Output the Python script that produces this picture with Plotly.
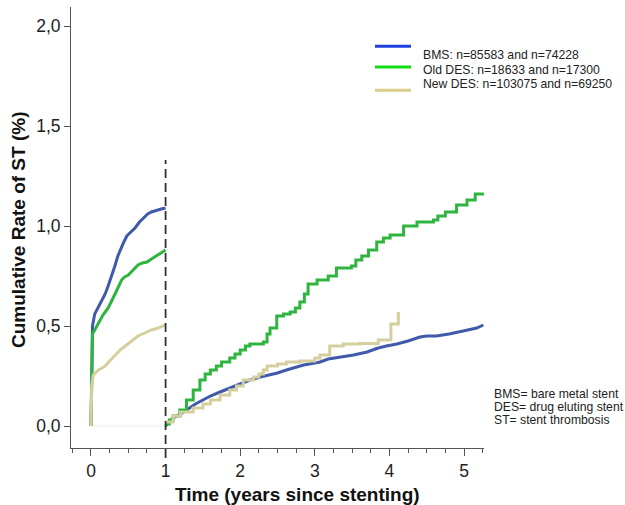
import plotly.graph_objects as go

# ---- data (years since stenting, cumulative rate of ST in %) ----
bms_t1 = [0, 0.01, 0.02, 0.05, 0.09, 0.14, 0.19, 0.23, 0.28, 0.32, 0.36, 0.39, 0.44, 0.48, 0.54, 0.59, 0.65, 0.70, 0.76, 0.81, 0.88, 0.94, 1.0]
bms_v1 = [0, 0.42, 0.50, 0.56, 0.59, 0.62, 0.66, 0.70, 0.75, 0.80, 0.85, 0.88, 0.92, 0.95, 0.97, 0.99, 1.02, 1.04, 1.06, 1.07, 1.08, 1.085, 1.09]
bms_t2 = [1.0, 1.1, 1.2, 1.28, 1.4, 1.5, 1.6, 1.73, 1.86, 2.0, 2.13, 2.27, 2.4, 2.5, 2.62, 2.75, 2.85, 3.0, 3.07, 3.18, 3.35, 3.52, 3.7, 3.85, 3.96, 4.1, 4.25, 4.41, 4.5, 4.63, 4.8, 4.95, 5.05, 5.17, 5.26]
bms_v2 = [0.0, 0.04, 0.06, 0.08, 0.11, 0.13, 0.15, 0.17, 0.19, 0.21, 0.23, 0.245, 0.255, 0.265, 0.28, 0.295, 0.305, 0.315, 0.32, 0.335, 0.345, 0.355, 0.37, 0.39, 0.40, 0.41, 0.425, 0.445, 0.45, 0.45, 0.46, 0.47, 0.48, 0.49, 0.505]

old_t1 = [0, 0.01, 0.02, 0.05, 0.08, 0.12, 0.16, 0.20, 0.23, 0.27, 0.32, 0.36, 0.41, 0.45, 0.50, 0.56, 0.63, 0.69, 0.75, 0.81, 0.88, 0.94, 1.0]
old_v1 = [0, 0.38, 0.46, 0.48, 0.50, 0.53, 0.555, 0.575, 0.59, 0.62, 0.655, 0.69, 0.73, 0.745, 0.755, 0.78, 0.805, 0.815, 0.82, 0.835, 0.85, 0.865, 0.88]
old_t2 = [1.0, 1.05, 1.1, 1.19, 1.28, 1.37, 1.46, 1.53, 1.60, 1.68, 1.75, 1.86, 1.93, 2.0, 2.07, 2.13, 2.31, 2.36, 2.40, 2.49, 2.58, 2.67, 2.74, 2.80, 2.86, 2.91, 3.03, 3.18, 3.29, 3.49, 3.55, 3.63, 3.72, 3.83, 3.92, 4.01, 4.19, 4.37, 4.59, 4.65, 4.75, 4.90, 5.04, 5.15, 5.26]
old_v2 = [0.01, 0.03, 0.05, 0.08, 0.13, 0.18, 0.23, 0.26, 0.28, 0.30, 0.32, 0.34, 0.36, 0.38, 0.40, 0.41, 0.42, 0.46, 0.49, 0.55, 0.56, 0.57, 0.59, 0.62, 0.66, 0.71, 0.73, 0.75, 0.79, 0.80, 0.83, 0.85, 0.88, 0.92, 0.94, 0.955, 1.0, 1.02, 1.03, 1.05, 1.07, 1.105, 1.13, 1.16, 1.165]

new_t1 = [0, 0.01, 0.03, 0.06, 0.10, 0.15, 0.19, 0.25, 0.32, 0.39, 0.46, 0.54, 0.63, 0.72, 0.81, 0.90, 1.0]
new_v1 = [0, 0.20, 0.255, 0.265, 0.28, 0.29, 0.30, 0.325, 0.355, 0.38, 0.40, 0.425, 0.45, 0.465, 0.48, 0.49, 0.505]
new_t2 = [1.0, 1.1, 1.2, 1.37, 1.5, 1.6, 1.73, 1.86, 1.95, 2.04, 2.18, 2.25, 2.31, 2.36, 2.5, 2.62, 2.8, 2.94, 3.0, 3.07, 3.2, 3.38, 3.6, 3.83, 3.85, 4.01, 4.02, 4.10, 4.12]
new_v2 = [0.02, 0.05, 0.07, 0.09, 0.11, 0.13, 0.155, 0.18, 0.20, 0.23, 0.245, 0.26, 0.28, 0.30, 0.31, 0.32, 0.325, 0.325, 0.34, 0.355, 0.40, 0.41, 0.413, 0.413, 0.43, 0.43, 0.51, 0.51, 0.57]

legend_labels = ["BMS: n=85583 and n=74228", "Old DES: n=18633 and n=17300", "New DES: n=103075 and n=69250"]
notes = ["BMS= bare metal stent", "DES= drug eluting stent", "ST= stent thrombosis"]
x_ticks = [0, 1, 2, 3, 4, 5]
y_ticks = [0.0, 0.5, 1.0, 1.5, 2.0]

line_colors = ["#3f5aaa", "#2fb53f", "#d5cf9f"]
legend_colors = ["#1d3fe0", "#14dd14", "#d8cc88"]
phase2_shapes = ["linear", "hv", "hv"]

FONT = "Liberation Sans, Arial, sans-serif"

fig = go.Figure()
series = [(bms_t1, bms_v1, bms_t2, bms_v2), (old_t1, old_v1, old_t2, old_v2), (new_t1, new_v1, new_t2, new_v2)]
for (t1, v1, t2, v2), col, shp2 in zip(series, line_colors, phase2_shapes):
    fig.add_trace(go.Scatter(x=t1, y=v1, mode="lines",
                             line=dict(color=col, width=3, shape="linear"),
                             showlegend=False, hoverinfo="skip"))
    fig.add_trace(go.Scatter(x=t2, y=v2, mode="lines",
                             line=dict(color=col, width=3, shape=shp2),
                             showlegend=False, hoverinfo="skip"))

W, H = 625, 505
L, R, T, B = 71, 484, 7, 448
pw, ph = R - L, B - T
def px(x):
    return (x - L) / pw
def py(y):
    return (B - y) / ph

shapes = []
shapes.append(dict(type="line", xref="x", yref="y", x0=0, x1=1, y0=0, y1=0,
                   line=dict(color="#ececec", width=1), layer="below"))
shapes.append(dict(type="line", xref="x", yref="paper", x0=1, x1=1, y0=py(458), y1=py(160),
                   line=dict(color="#333333", width=1.8, dash="9px,5px")))
for yy, col in zip([46.3, 67, 90.3], legend_colors):
    shapes.append(dict(type="line", xref="paper", yref="paper", x0=px(375), x1=px(411),
                       y0=py(yy), y1=py(yy), line=dict(color=col, width=3)))

annotations = []
for txt, yy in zip(legend_labels, [55, 70, 84]):
    annotations.append(dict(text=txt, xref="paper", yref="paper", x=px(421), y=py(yy),
                            xanchor="left", yanchor="middle", showarrow=False,
                            font=dict(family=FONT, size=12.2, color="#222222")))
for txt, yy in zip(notes, [393.5, 406.5, 419.5]):
    annotations.append(dict(text=txt, xref="paper", yref="paper", x=px(491.5), y=py(yy),
                            xanchor="left", yanchor="middle", showarrow=False,
                            font=dict(family=FONT, size=12.2, color="#222222")))
annotations.append(dict(text="<b>Time (years since stenting)</b>", xref="paper", yref="paper",
                        x=px(297.5), y=py(494), xanchor="center", yanchor="middle", showarrow=False,
                        font=dict(family=FONT, size=19, color="#111111")))
annotations.append(dict(text="<b>Cumulative Rate of ST (%)</b>", xref="paper", yref="paper",
                        x=px(18), y=py(230), xanchor="center", yanchor="middle", showarrow=False,
                        textangle=-90, font=dict(family=FONT, size=19, color="#111111")))

fig.update_layout(
    width=W, height=H,
    margin=dict(l=L, r=W - R, t=T, b=H - B, pad=0),
    paper_bgcolor="white", plot_bgcolor="white",
    separators=",.",
    shapes=shapes, annotations=annotations,
    font=dict(family=FONT, color="#222222"),
    xaxis=dict(range=[-0.268, 5.268], tickvals=x_ticks, ticktext=[str(v) for v in x_ticks],
               showgrid=False, zeroline=False, showline=True, linecolor="#555555", linewidth=1,
               ticks="outside", ticklen=7, tickcolor="#555555", tickwidth=1,
               tickfont=dict(size=17.5, color="#222222"),
               minor=dict(dtick=0.25, tick0=0, ticks="outside", ticklen=4, tickcolor="#555555", tickwidth=1)),
    yaxis=dict(range=[-0.11, 2.095], tickvals=y_ticks, tickformat=".1f",
               showgrid=False, zeroline=False, showline=True, linecolor="#555555", linewidth=1,
               ticks="outside", ticklen=6, tickcolor="#555555", tickwidth=1,
               tickfont=dict(size=17.5, color="#222222")),
)

fig.write_html("out.html", config={"displayModeBar": False},
               post_script="document.body.style.margin='0';document.body.style.overflow='hidden';")
